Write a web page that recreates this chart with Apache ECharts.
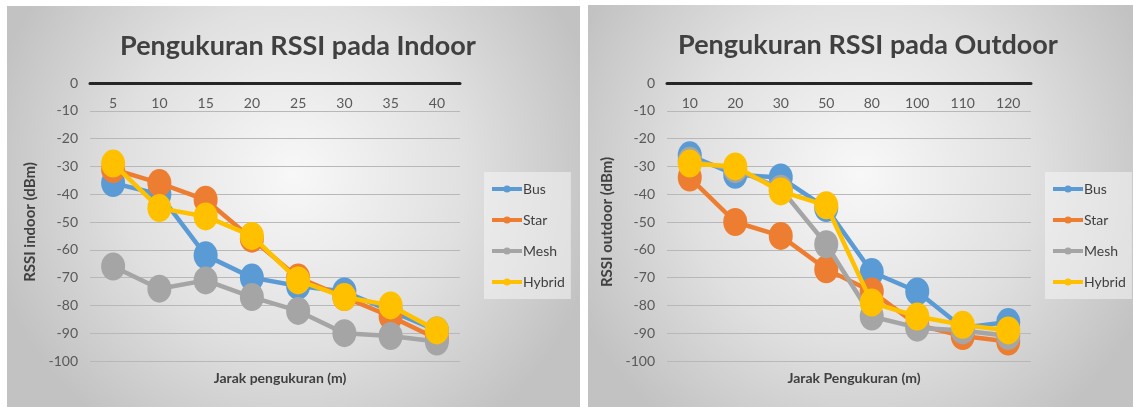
<!DOCTYPE html>
<html>
<head>
<meta charset="utf-8">
<script src="https://cdn.jsdelivr.net/npm/echarts@6/dist/echarts.min.js"></script>
<style>
  html, body { margin: 0; padding: 0; background: #ffffff; width: 1133px; height: 407px; overflow: hidden; }
  #c1 { position: absolute; left: 7px; top: 6px; width: 573px; height: 401px; }
  #c2 { position: absolute; left: 588px; top: 5px; width: 545px; height: 402px; }
</style>
</head>
<body>
<div id="c1"></div>
<div id="c2"></div>
<script>
// ---- Data ----
const seriesNames = ['Bus', 'Star', 'Mesh', 'Hybrid'];
const indoorDistances = ['5', '10', '15', '20', '25', '30', '35', '40'];
const indoorBus    = [-36, -40, -62, -70, -73, -75, -82, -89];
const indoorStar   = [-31, -36, -42, -56, -70, -77, -84, -92];
const indoorMesh   = [-66, -74, -71, -77, -82, -90, -91, -93];
const indoorHybrid = [-29, -45, -48, -55, -71, -77, -80, -89];

const outdoorDistances = ['10', '20', '30', '50', '80', '100', '110', '120'];
const outdoorBus    = [-26, -33, -34, -45, -68, -75, -88, -86];
const outdoorStar   = [-34, -50, -55, -67, -75, -87, -91, -93];
const outdoorMesh   = [-28, -31, -38, -58, -84, -88, -89, -91];
const outdoorHybrid = [-29, -30, -39, -44, -79, -84, -87, -89];

const yMin = -100, yMax = 0, yStep = 10;

// ---- Styles ----
const colors = ['#5B9BD5', '#ED7D31', '#A5A5A5', '#FFC000'];
const FONT = 'Lato, "Open Sans", sans-serif';

function bg() {
  return {
    type: 'radial', x: 0.5, y: 0.42, r: 0.78,
    colorStops: [
      { offset: 0, color: '#f8f8f8' },
      { offset: 0.55, color: '#e0e0e0' },
      { offset: 1, color: '#c2c2c2' }
    ]
  };
}

function makeOption(cfg) {
  const values = cfg.values;
  return {
    animation: false,
    backgroundColor: bg(),
    color: colors,
    textStyle: { fontFamily: FONT },
    title: [
      {
        text: cfg.title, left: cfg.titleX, top: 22, textAlign: 'center',
        textStyle: { fontFamily: FONT, fontSize: 27, fontWeight: 'bold', color: '#404040' }
      },
      {
        text: cfg.xName, left: cfg.grid.left + cfg.grid.width / 2, top: cfg.xNameTop, textAlign: 'center',
        textStyle: { fontFamily: FONT, fontSize: 14, fontWeight: 'bold', color: '#404040' }
      }
    ],
    legend: {
      orient: 'vertical', left: cfg.legendX, top: cfg.legendY,
      padding: [10, 6, 10, 6],
      backgroundColor: 'rgba(245,245,245,0.55)',
      itemWidth: 30, itemHeight: 9, itemGap: 17,
      lineStyle: { width: 4 },
      data: seriesNames,
      textStyle: { fontFamily: FONT, fontSize: 14, color: '#404040', padding: [0, 0, 0, -4] }
    },
    grid: {
      left: cfg.grid.left, top: cfg.grid.top, width: cfg.grid.width, height: cfg.grid.height,
      containLabel: false
    },
    xAxis: {
      type: 'category', data: cfg.categories, boundaryGap: true,
      position: 'top',
      axisLine: { show: true, onZero: false, lineStyle: { color: '#262626', width: 3 } },
      axisTick: { show: false },
      axisLabel: { inside: true, margin: 13, fontFamily: FONT, fontSize: 14, color: '#595959' },
      splitLine: { show: false }
    },
    yAxis: {
      type: 'value', min: yMin, max: yMax, interval: yStep,
      name: cfg.yName, nameLocation: 'middle', nameGap: cfg.yNameGap,
      nameTextStyle: { fontFamily: FONT, fontSize: 15, fontWeight: 'bold', color: '#404040' },
      axisLine: { show: false }, axisTick: { show: false },
      axisLabel: { margin: 12, fontFamily: FONT, fontSize: 14, color: '#595959' },
      splitLine: { show: true, lineStyle: { color: '#b8b8b8', width: 1 } }
    },
    series: seriesNames.map((n, i) => ({
      name: n, type: 'line', data: values[i],
      symbol: 'circle', symbolSize: [24, 28],
      lineStyle: { width: 4.5, color: colors[i] },
      itemStyle: { color: colors[i] },
      z: 2 + i
    }))
  };
}

const c1 = echarts.init(document.getElementById('c1'));
c1.setOption(makeOption({
  title: 'Pengukuran RSSI pada Indoor', titleX: 286,
  xName: 'Jarak pengukuran (m)', xNameTop: 360,
  yName: 'RSSI indoor (dBm)', yNameGap: 52,
  categories: indoorDistances,
  values: [indoorBus, indoorStar, indoorMesh, indoorHybrid],
  grid: { left: 83, top: 77, width: 370, height: 278 },
  legendX: 477, legendY: 166
}));

const c2 = echarts.init(document.getElementById('c2'));
c2.setOption(makeOption({
  title: 'Pengukuran RSSI pada Outdoor', titleX: 275,
  xName: 'Jarak Pengukuran (m)', xNameTop: 361,
  yName: 'RSSI outdoor (dBm)', yNameGap: 50,
  categories: outdoorDistances,
  values: [outdoorBus, outdoorStar, outdoorMesh, outdoorHybrid],
  grid: { left: 79, top: 78, width: 364, height: 278 },
  legendX: 457, legendY: 167
}));
</script>
</body>
</html>
